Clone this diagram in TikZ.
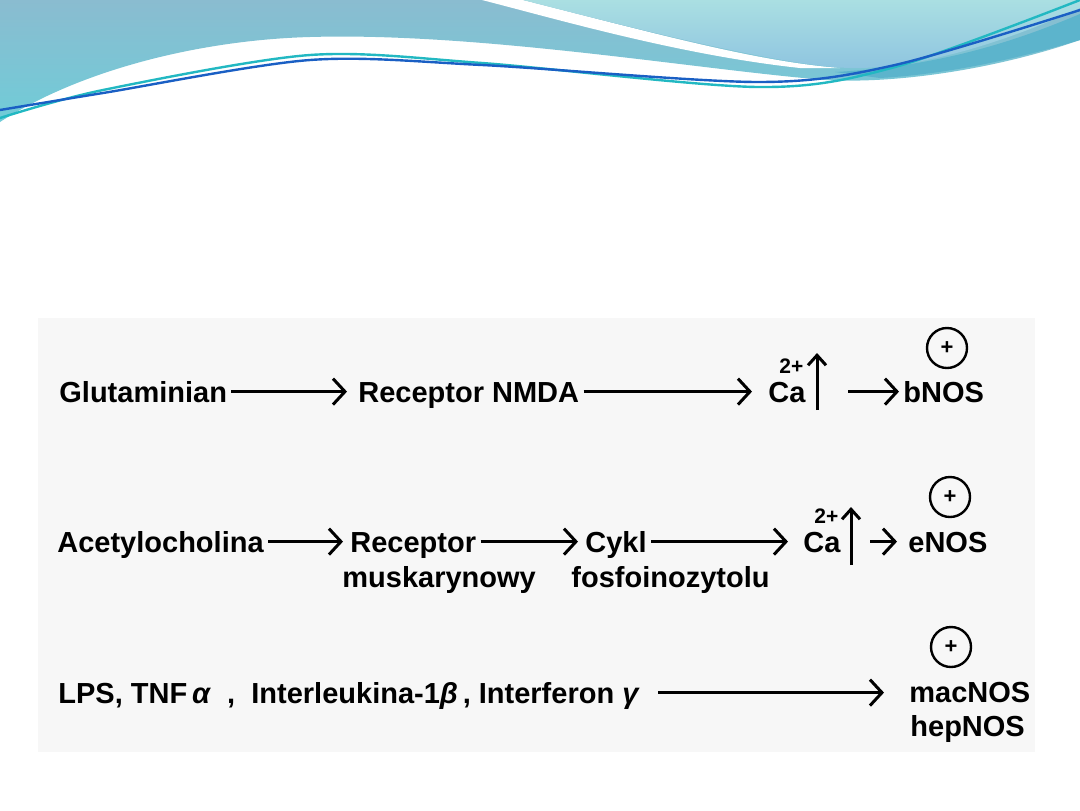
\documentclass[tikz,border=0pt]{standalone}
\usepackage{fontspec}
\setmainfont{Liberation Sans}
\usetikzlibrary{arrows.meta}
\definecolor{wavetop}{HTML}{8ABCD0}
\definecolor{wavelow}{HTML}{70CCD8}
\definecolor{lighttop}{HTML}{AADFE2}
\definecolor{lightlow}{HTML}{8EC4E0}
\definecolor{bandteal}{HTML}{5CB4CC}
\definecolor{linecyan}{HTML}{22B8C2}
\definecolor{lineblue}{HTML}{1A5FC4}
\definecolor{boxgray}{HTML}{F7F7F7}
\newcommand{\cytotext}{LPS, TNF\,\textit{α}\ \ ,\ \ Interleukina-1\textit{β}\,, Interferon \textit{γ}}

\begin{document}
\begin{tikzpicture}[x=0.5pt,y=-0.5pt,
  txt/.style={font=\bfseries\fontsize{14.5}{17}\selectfont, inner sep=2pt,
    text height=10.4pt, text depth=0pt, anchor=base west},
  charge/.style={font=\bfseries\fontsize{10.5}{12}\selectfont, inner sep=0pt, anchor=base west},
  arr/.style={line width=1.5pt, -{Straight Barb[length=6pt,width=13pt]}},
  uparr/.style={line width=1.5pt, -{Straight Barb[length=5pt,width=9pt]}},
  plus/.style={circle, draw, line width=1.2pt, minimum size=20pt, inner sep=0pt,
    font=\bfseries\fontsize{11}{11}\selectfont}]

\useasboundingbox (0,0) rectangle (1080,810);

% Header waves
\shade[top color=wavetop, bottom color=wavelow]
  (0,0) -- (1080,0) -- (1080,40)
  .. controls (1000,68) and (900,84) .. (826,80)
  .. controls (700,70) and (480,32) .. (310,37)
  .. controls (200,40) and (80,70) .. (0,122) -- cycle;
\fill[white] (482,0) .. controls (560,20) and (680,55) .. (800,68)
  -- (840,68) .. controls (760,62) and (660,35) .. (523,0) -- cycle;
\shade[top color=lighttop, bottom color=lightlow]
  (523,0) -- (1080,0) -- (1080,8)
  .. controls (1010,40) and (930,66) .. (861,68)
  .. controls (800,70) and (660,35) .. (523,0) -- cycle;
\fill[bandteal] (835,72) .. controls (950,66) and (1030,35) .. (1080,14)
  -- (1080,40) .. controls (1020,58) and (950,74) .. (880,78) -- cycle;
\draw[linecyan, line width=1.2pt] plot[smooth] coordinates
  {(0,118) (103,90) (310,55) (482,63) (758,87) (895,67) (1080,0)};
\draw[lineblue, line width=1.2pt] plot[smooth] coordinates
  {(0,110) (103,93) (310,60) (482,65) (758,82) (895,65) (1080,10)};

% Light panel behind the scheme
\fill[boxgray] (38,318) rectangle (1035,752);

% Row 1: glutaminian
\node[txt] (glu) at (55,402) {Glutaminian};
\node[txt] (nmda) at (354,402) {Receptor NMDA};
\node[txt] (ca1) at (764,402) {Ca};
\node[charge] (chg1) at (779,373) {2+};
\node[txt] (bnos) at (899,402) {bNOS};
\node[plus] (pl1) at (947,348) {+};
\coordinate (up1b) at (817,410);
\coordinate (up1t) at (817,353);
\coordinate (go1) at (848,390);

\draw[arr, shorten >=3.5pt] (glu) -- (nmda);
\draw[arr, shorten >=6pt] (nmda) -- (ca1);
\draw[uparr] (up1b) -- (up1t);
\draw[arr] (go1 |- bnos.west) -- (bnos.west);

% Row 2: acetylocholina
\node[txt] (acet) at (53,552) {Acetylocholina};
\node[txt] (rec) at (346,552) {Receptor};
\node[txt] (musk) at (338,587) {muskarynowy};
\node[txt] (cykl) at (581,552) {Cykl};
\node[txt] (fosf) at (567,587) {fosfoinozytolu};
\node[txt] (ca2) at (799,552) {Ca};
\node[charge] (chg2) at (814,523) {2+};
\node[txt] (enos) at (904,552) {eNOS};
\node[plus] (pl2) at (950,497) {+};
\coordinate (up2b) at (851,565);
\coordinate (up2t) at (851,507);
\coordinate (go2) at (870,540);

\draw[arr, shorten >=1.5pt] (acet) -- (rec);
\draw[arr, shorten >=1.5pt] (rec) -- (cykl);
\draw[arr, shorten >=5.5pt] (cykl) -- (ca2);
\draw[uparr] (up2b) -- (up2t);
\draw[arr, shorten >=3.5pt] (go2 |- enos.west) -- (enos.west);

% Row 3: cytokines
\node[txt] (cyto) at (54,703) {\cytotext};
\node[txt] (mac) at (905,702) {macNOS};
\node[txt] (hep) at (906,736) {hepNOS};
\node[plus] (pl3) at (951,647) {+};

\draw[arr, shorten <=7pt, shorten >=10.5pt] (cyto.east) -- (cyto.east -| mac.west);
\end{tikzpicture}
\end{document}
